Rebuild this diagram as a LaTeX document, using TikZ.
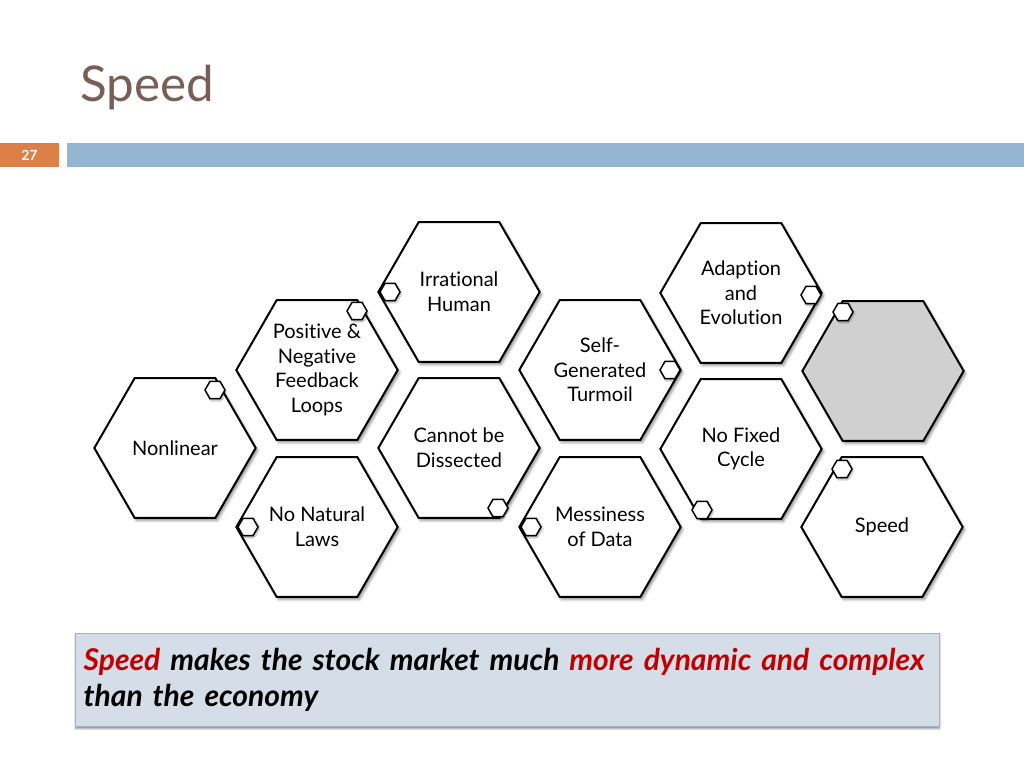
\documentclass[tikz,border=0pt]{standalone}
\usepackage{fontspec}
\setmainfont{Lato}[Ligatures={NoCommon}]
\usepackage{xcolor}
\usetikzlibrary{positioning,calc,shapes.geometric,shadows.blur}

\definecolor{titlebrown}{HTML}{775F55}
\definecolor{barblue}{HTML}{94B6D2}
\definecolor{numorange}{HTML}{DD8047}
\definecolor{notefill}{HTML}{D5DEE8}
\definecolor{noteedge}{HTML}{9DB3C8}
\definecolor{hlred}{HTML}{C00000}
\definecolor{hexgray}{HTML}{D0D0D0}

\begin{document}
\begin{tikzpicture}[
  x=0.75pt, y=-0.75pt,
  hexa/.style={regular polygon, regular polygon sides=6, minimum size=121pt, inner sep=0pt, draw=black, line width=1.5pt, fill=white, align=center, font=\fontsize{15}{18.5}\selectfont, blur shadow={shadow xshift=1.5pt, shadow yshift=-2pt, shadow blur radius=2pt, shadow opacity=45}},
  knob/.style={regular polygon, regular polygon sides=6, minimum size=15pt, inner sep=0pt, draw=black, line width=1.1pt, fill=white, blur shadow={shadow xshift=0.8pt, shadow yshift=-1pt, shadow blur radius=0.8pt, shadow opacity=40}},
  band/.style={minimum height=18pt, inner sep=0pt},
  note/.style={draw=noteedge, fill=notefill, line width=0.6pt, minimum width=648pt, minimum height=69.75pt, text width=635pt, inner xsep=6.5pt, align=left, font=\fontsize{22.5}{27}\selectfont\bfseries\itshape, blur shadow={shadow xshift=0.5pt, shadow yshift=-2pt, shadow blur radius=1.5pt, shadow opacity=45}}
]
\useasboundingbox (0,0) rectangle (1024,768);

% title and slide band
\node[anchor=base west, inner sep=0pt, font=\fontsize{37}{40}\selectfont, text=titlebrown] (title) at (80,101) {Speed};
\node[band, fill=numorange, minimum width=44.25pt, text=white, font=\fontsize{10.5}{11}\selectfont\bfseries] (pnum) at (29.5,155) {27};
\node[band, fill=barblue, minimum width=718.5pt, right=5.25pt of pnum] (bar) {};

% honeycomb
\node[hexa] (nonlin) at (175,448) {Nonlinear};
\node[hexa] (posneg) at (317,370) {Positive \&\\Negative\\Feedback\\Loops};
\node[hexa] (nonat) at (317,527) {No Natural\\Laws};
\node[hexa] (irrat) at (459,292) {Irrational\\Human};
\node[hexa] (nodis) at (459,448) {Cannot be\\Dissected};
\node[hexa] (turmoil) at (600,370) {Self-\\Generated\\Turmoil};
\node[hexa] (messy) at (600,527) {Messiness\\of Data};
\node[hexa] (adapt) at (741,293) {Adaption\\and\\Evolution};
\node[hexa] (nocycle) at (741,449) {No Fixed\\Cycle};
\node[hexa, fill=hexgray] (blank) at (883,371) {};
\node[hexa] (speed) at (882,527) {Speed};

% small hexagons on the cells
\node[knob] (nonlin-k) at ($(nonlin)+(40,-58)$) {};
\node[knob] (posneg-k) at ($(posneg)+(40,-59)$) {};
\node[knob] (nonat-k) at ($(nonat)+(-69,0)$) {};
\node[knob] (irrat-k) at ($(irrat)+(-69,0)$) {};
\node[knob] (nodis-k) at ($(nodis)+(39,60)$) {};
\node[knob] (turmoil-k) at ($(turmoil)+(70,0)$) {};
\node[knob] (messy-k) at ($(messy)+(-69,0)$) {};
\node[knob] (adapt-k) at ($(adapt)+(70,2)$) {};
\node[knob] (nocycle-k) at ($(nocycle)+(-39,61)$) {};
\node[knob] (blank-k) at ($(blank)+(-40,-59)$) {};
\node[knob] (speed-k) at ($(speed)+(-40,-58)$) {};

% message box
\node[note] (msg) at (507,679.5) {{\color{hlred}Speed} makes the stock market much {\color{hlred}more dynamic and complex}\\than the economy};

\end{tikzpicture}
\end{document}
